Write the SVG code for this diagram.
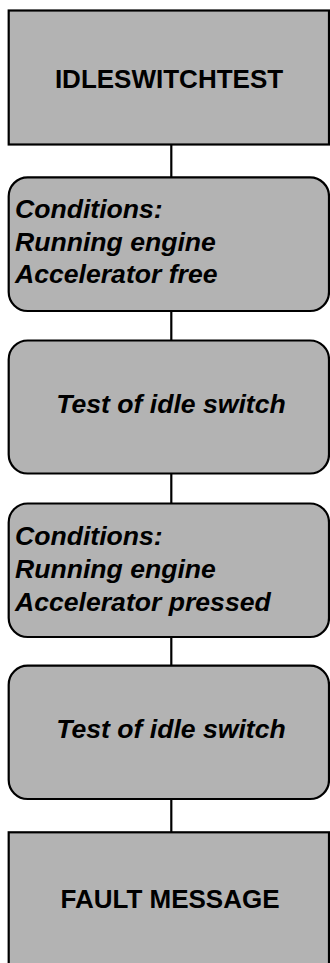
<svg xmlns="http://www.w3.org/2000/svg" width="330" height="963" viewBox="0 0 330 963">
<style>
.box{fill:#b3b3b3;stroke:#000;stroke-width:2.2}
.t{font-family:"Liberation Sans",Arial,sans-serif;font-weight:bold;font-size:26px;fill:#000}
.i{font-style:italic;font-size:26.6px}
.c{stroke:#000;stroke-width:2.2;fill:none}
</style>
<rect width="330" height="963" fill="#fff"/>
<g id="connectors">
<line class="c" x1="171.3" y1="144.5" x2="171.3" y2="177.3"/>
<line class="c" x1="171.3" y1="311" x2="171.3" y2="340.5"/>
<line class="c" x1="171.3" y1="473.5" x2="171.3" y2="503.5"/>
<line class="c" x1="171.3" y1="637" x2="171.3" y2="665.7"/>
<line class="c" x1="171.3" y1="799" x2="171.3" y2="832.3"/>
</g>
<g id="n1">
<rect class="box" x="8.7" y="10.5" width="320.3" height="134"/>
<text class="t" x="169" y="88.3" text-anchor="middle">IDLESWITCHTEST</text>
</g>
<g id="n2">
<rect class="box" x="8.7" y="177.3" width="320.3" height="133.7" rx="19" ry="19"/>
<text class="t i" x="15" y="218.3">Conditions:</text>
<text class="t i" x="15" y="250.5">Running engine</text>
<text class="t i" x="15" y="283">Accelerator free</text>
</g>
<g id="n3">
<rect class="box" x="8.7" y="340.5" width="320.3" height="133" rx="19" ry="19"/>
<text class="t i" x="171" y="412.5" text-anchor="middle">Test of idle switch</text>
</g>
<g id="n4">
<rect class="box" x="8.7" y="503.5" width="320.3" height="133.5" rx="19" ry="19"/>
<text class="t i" x="15" y="544.8">Conditions:</text>
<text class="t i" x="15" y="577.5">Running engine</text>
<text class="t i" x="15" y="610.5">Accelerator pressed</text>
</g>
<g id="n5">
<rect class="box" x="8.7" y="665.7" width="320.3" height="133.3" rx="19" ry="19"/>
<text class="t i" x="171" y="737.7" text-anchor="middle">Test of idle switch</text>
</g>
<g id="n6">
<rect class="box" x="8.7" y="832.3" width="320.3" height="134"/>
<text class="t" x="170" y="908.3" text-anchor="middle">FAULT MESSAGE</text>
</g>
</svg>
